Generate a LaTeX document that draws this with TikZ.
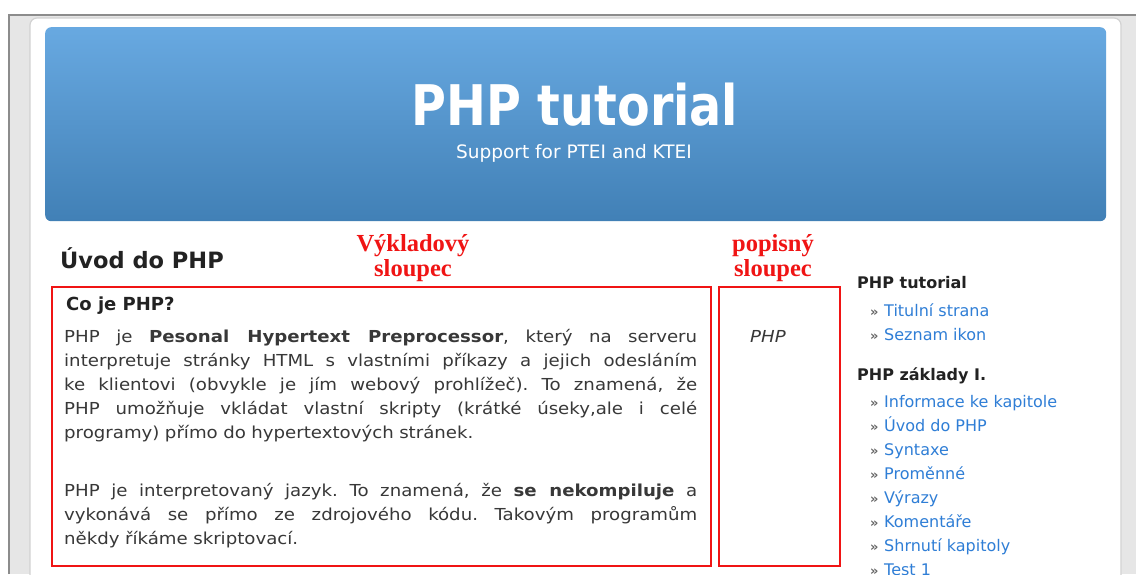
\documentclass[tikz,border=0pt]{standalone}
\usepackage{fontspec}
\setmainfont{DejaVu Sans}
\newfontfamily\bodyfont[FakeStretch=1.1]{DejaVu Sans}
\newfontfamily\titlefont[FakeStretch=0.85]{DejaVu Sans}
\newfontfamily\redfont{Liberation Serif}
\usepackage{tikz}
\usetikzlibrary{positioning}
\definecolor{hdtop}{HTML}{68A9E1}
\definecolor{hdbot}{HTML}{4180B6}
\definecolor{odkaz}{HTML}{2F7ED6}
\definecolor{textgray}{HTML}{383838}
\definecolor{nadpis}{HTML}{222222}
\definecolor{znacka}{HTML}{666666}
\definecolor{cervena}{HTML}{F01414}
\definecolor{ramgray}{HTML}{8C8C8C}
\definecolor{pozadi}{HTML}{E6E6E6}
\definecolor{panelline}{HTML}{D2D2D2}
% radek zarovnany do bloku
\newcommand{\radek}[1]{\makebox[633pt][s]{\spaceskip=0pt\xspaceskip=0pt #1}}

\begin{document}
\begin{tikzpicture}[x=1pt,y=-1pt,
txt/.style={inner sep=0pt,anchor=base west},
odstavec/.style={txt,text width=633pt,align=left,text=textgray,
font=\bodyfont\fontsize{16.5}{24}\selectfont\frenchspacing},
header/.style={anchor=north west,inner sep=0pt,rounded corners=6pt,
top color=hdtop,bottom color=hdbot,minimum width=1061pt,
minimum height=194pt},
redbox/.style={draw=cervena,line width=1.6pt,anchor=north west,
inner sep=0pt,minimum height=279pt},
redlbl/.style={inner sep=0pt,anchor=south,align=center,text=cervena,
font=\redfont\bfseries\fontsize{24.5}{25}\selectfont},
sidehead/.style={txt,font=\bfseries\fontsize{16}{19}\selectfont,text=nadpis},
sidelink/.style={txt,font=\fontsize{16}{19}\selectfont,text=odkaz},
sidebul/.style={txt,font=\bfseries\fontsize{13}{15}\selectfont,text=znacka}
]
\useasboundingbox (0,0) rectangle (1136,574);
% okno prohlizece
\fill[pozadi] (8,15) rectangle (1136,574);
\draw[ramgray,line width=2pt] (9,574) -- (9,15) -- (1136,15);
\filldraw[fill=white,draw=panelline,line width=1.2pt,rounded corners=7pt]
(30,18) rectangle (1121,620);
% hlavicka
\node[header] (hlavicka) at (45,27) {};
\node[inner sep=0pt,anchor=base,text=white,
font=\titlefont\bfseries\fontsize{56}{60}\selectfont] (titul) at (575,125) {PHP tutorial};
\node[inner sep=0pt,anchor=base,text=white,
font=\fontsize{18.5}{22}\selectfont] (podtitul) at (574,158) {Support for PTEI and KTEI};
% obsah
\node[txt,font=\bfseries\fontsize{22.5}{26}\selectfont,text=nadpis] (uvod) at (60,268) {Úvod do PHP};
\node[redlbl] (vykladlbl) at (413,282) {Výkladový\\sloupec};
\node[redlbl] (popislbl) at (773,282) {popisný\\sloupec};
\node[redbox,minimum width=659pt] (vyklad) at (51,286) {};
\node[redbox,minimum width=121pt] (popis) at (718,286) {};
\node[txt,font=\bfseries\fontsize{18}{22}\selectfont,text=nadpis] (coje) at (66,310) {Co je PHP?};
\node[odstavec] (odst1) at (64,342) {%
\radek{PHP je \textbf{Pesonal Hypertext Preprocessor}, který na serveru}\\
\radek{interpretuje stránky HTML s vlastními příkazy a jejich odesláním}\\
\radek{ke klientovi (obvykle je jím webový prohlížeč). To znamená, že}\\
\radek{PHP umožňuje vkládat vlastní skripty (krátké úseky,ale i celé}\\
programy) přímo do hypertextových stránek.};
\node[odstavec] (odst2) at (64,496) {%
\radek{PHP je interpretovaný jazyk. To znamená, že \textbf{se nekompiluje} a}\\
\radek{vykonává se přímo ze zdrojového kódu. Takovým programům}\\
někdy říkáme skriptovací.};
\node[txt,font=\bodyfont\itshape\fontsize{16.5}{20}\selectfont,text=textgray] (pojem) at (750,342) {PHP};
% postranni menu
\node[sidehead] (menu1) at (857,288) {PHP tutorial};
\node[sidebul] (t1b) at (870,316) {»};
\node[sidelink] (t1) at (884,316) {Titulní strana};
\node[sidebul] (t2b) at (870,340) {»};
\node[sidelink] (t2) at (884,340) {Seznam ikon};
\node[sidehead] (menu2) at (857,380) {PHP základy I.};
\foreach \t [count=\i] in {Informace ke kapitole,Úvod do PHP,Syntaxe,Proměnné,
Výrazy,Komentáře,Shrnutí kapitoly,Test 1} {
\node[sidebul] (k\i b) at (870,{407+24*(\i-1)}) {»};
\node[sidelink] (k\i) at (884,{407+24*(\i-1)}) {\t};
}
\end{tikzpicture}
\end{document}
